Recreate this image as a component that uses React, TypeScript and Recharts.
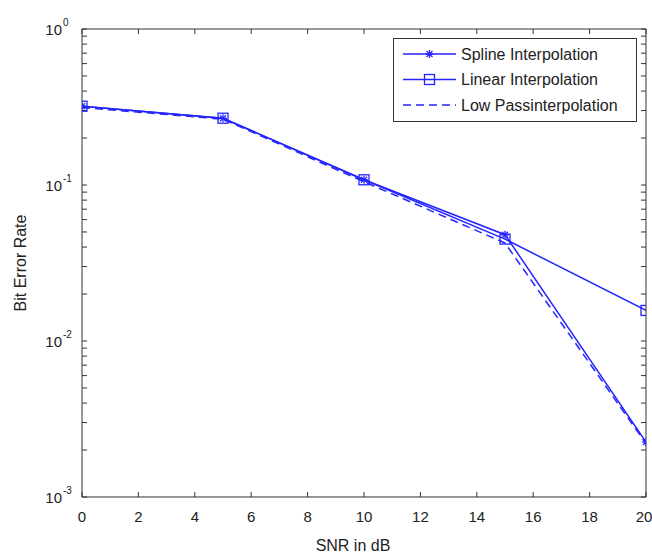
import { LineChart, Line, XAxis, YAxis, Legend } from "recharts";

const snr = [0, 5, 10, 15, 20];
const splineBer = [0.32, 0.268, 0.108, 0.048, 0.00225];
const linearBer = [0.32, 0.268, 0.108, 0.045, 0.0157];
const lowPassBer = [0.314, 0.264, 0.105, 0.0425, 0.0022];

const seriesNames = ["Spline Interpolation", "Linear Interpolation", "Low Passinterpolation"];
const xTicks = [0, 2, 4, 6, 8, 10, 12, 14, 16, 18, 20];
const decades = [-3, -2, -1, 0];

// minor ticks 2..9 in every decade, as on a matlab log axis
const yTicks = decades.flatMap((d) =>
  d === 0 ? [1] : [1, 2, 3, 4, 5, 6, 7, 8, 9].map((m) => Number((m * Math.pow(10, d)).toPrecision(3)))
);

const data = snr.map((s, i) => ({
  snr: s,
  spline: splineBer[i],
  linear: linearBer[i],
  lowpass: lowPassBer[i],
}));

const BLUE = "#2424ff";
const AXIS = "#333";
const FONT = "'Liberation Sans', Arial, sans-serif";

function decadeOf(v: number): number | null {
  const l = Math.log10(v);
  return Math.abs(l - Math.round(l)) < 1e-6 ? Math.round(l) : null;
}

function yLabel(p: any) {
  const { x, y, payload } = p;
  const d = decadeOf(payload.value);
  if (d === null) return <g />;
  return (
    <g fontFamily={FONT} fill="#222">
      <text x={x - 20} y={y + 5.5} fontSize={15} textAnchor="end">
        10
      </text>
      <text x={x - 19} y={y - 3} fontSize={10} textAnchor="start">
        {String(d)}
      </text>
    </g>
  );
}

function xLabel(p: any) {
  const { x, y, payload } = p;
  return (
    <text x={x} y={y + 25} fontSize={15} textAnchor="middle" fontFamily={FONT} fill="#222">
      {payload.value}
    </text>
  );
}

function StarDot(p: any) {
  const { cx, cy } = p;
  if (cx == null || cy == null) return <g />;
  return (
    <g stroke={BLUE} strokeWidth={1.3}>
      <line x1={cx - 4} x2={cx + 4} y1={cy} y2={cy} />
      <line x1={cx} x2={cx} y1={cy - 4} y2={cy + 4} />
      <line x1={cx - 3} x2={cx + 3} y1={cy - 3} y2={cy + 3} />
      <line x1={cx - 3} x2={cx + 3} y1={cy + 3} y2={cy - 3} />
    </g>
  );
}

function SquareDot(p: any) {
  const { cx, cy } = p;
  if (cx == null || cy == null) return <g />;
  return <rect x={cx - 5} y={cy - 5} width={10} height={10} fill="none" stroke={BLUE} strokeWidth={1.3} />;
}

function LegendBox() {
  const rows = [0, 1, 2];
  return (
    <div style={{ border: `1px solid ${AXIS}`, background: "#fff", width: 244, height: 84, boxSizing: "border-box" }}>
      <svg width={242} height={82}>
        {rows.map((i) => {
          const y = 15 + i * 25.5;
          return (
            <g key={i}>
              <line
                x1={9}
                x2={62}
                y1={y}
                y2={y}
                stroke={BLUE}
                strokeWidth={1.5}
                strokeDasharray={i === 2 ? "8 5" : undefined}
              />
              {i === 0 && <StarDot cx={35.5} cy={y} />}
              {i === 1 && <SquareDot cx={35.5} cy={y} />}
              <text x={67} y={y + 5.5} fontSize={16} fontFamily={FONT} fill="#222">
                {seriesNames[i]}
              </text>
            </g>
          );
        })}
      </svg>
    </div>
  );
}

// negative tickSize makes the ticks point into the plot, tickMargin puts the label anchor back on the axis
const tickLineStyle = { stroke: AXIS, strokeWidth: 1 };

export default function App() {
  return (
    <div style={{ position: "absolute", left: 0, top: 0, background: "#fff" }}>
      <LineChart width={652} height={553} data={data} margin={{ top: 28, right: 5, left: 0, bottom: 0 }}>
        <XAxis
          xAxisId="bottom"
          dataKey="snr"
          type="number"
          domain={[0, 20]}
          ticks={xTicks}
          allowDataOverflow
          height={56}
          tickSize={-5}
          tickMargin={5}
          tickLine={tickLineStyle}
          stroke={AXIS}
          tick={xLabel}
          label={() => (
            <text x={353} y={551} fontSize={16} textAnchor="middle" fontFamily={FONT} fill="#222">
              SNR in dB
            </text>
          )}
        />
        <XAxis
          xAxisId="top"
          orientation="top"
          dataKey="snr"
          type="number"
          domain={[0, 20]}
          ticks={xTicks}
          allowDataOverflow
          height={1}
          tickSize={-5}
          tickMargin={5}
          tickLine={tickLineStyle}
          axisLine={{ stroke: AXIS }}
          stroke={AXIS}
          tick={() => <g />}
        />
        <YAxis
          yAxisId="left"
          scale="log"
          type="number"
          domain={[0.001, 1]}
          ticks={yTicks}
          allowDataOverflow
          width={82}
          tickSize={-5}
          tickMargin={5}
          tickLine={tickLineStyle}
          stroke={AXIS}
          interval={0}
          tick={yLabel}
          label={() => (
            <text
              transform="translate(26 263) rotate(-90)"
              fontSize={16}
              textAnchor="middle"
              fontFamily={FONT}
              fill="#222"
            >
              Bit Error Rate
            </text>
          )}
        />
        <YAxis
          yAxisId="right"
          orientation="right"
          scale="log"
          type="number"
          domain={[0.001, 1]}
          ticks={yTicks}
          allowDataOverflow
          width={1}
          tickSize={-5}
          tickMargin={5}
          tickLine={tickLineStyle}
          axisLine={{ stroke: AXIS }}
          stroke={AXIS}
          interval={0}
          tick={() => <g />}
        />
        <Legend
          layout="horizontal"
          verticalAlign="middle"
          align="center"
          wrapperStyle={{ left: 393, top: 38, width: 244, height: 84 }}
          content={LegendBox}
        />
        <Line
          xAxisId="bottom"
          yAxisId="left"
          dataKey="linear"
          stroke={BLUE}
          strokeWidth={1.5}
          dot={SquareDot}
          activeDot={false}
          isAnimationActive={false}
        />
        <Line
          xAxisId="bottom"
          yAxisId="left"
          dataKey="spline"
          stroke={BLUE}
          strokeWidth={1.5}
          dot={StarDot}
          activeDot={false}
          isAnimationActive={false}
        />
        <Line
          xAxisId="top"
          yAxisId="right"
          dataKey="lowpass"
          stroke={BLUE}
          strokeWidth={1.5}
          strokeDasharray="8 5"
          dot={false}
          activeDot={false}
          isAnimationActive={false}
        />
      </LineChart>
    </div>
  );
}
